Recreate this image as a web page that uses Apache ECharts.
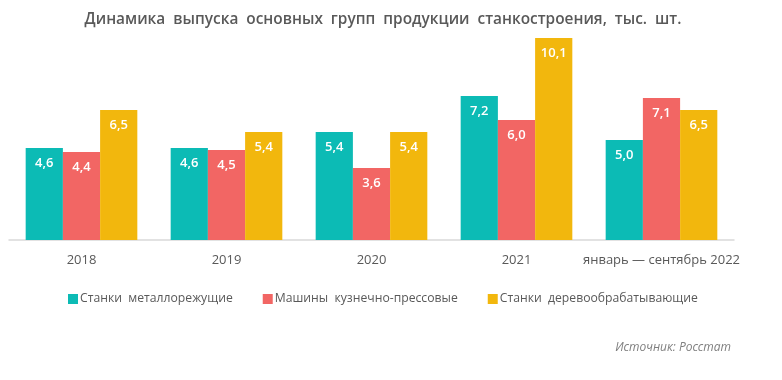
<!DOCTYPE html>
<html><head><meta charset="utf-8">
<script src="https://cdn.jsdelivr.net/npm/echarts@6/dist/echarts.min.js"></script>
<style>html,body{margin:0;padding:0;background:#fff}#c{width:782px;height:380px}</style>
</head><body><div id="c"></div>
<script>
const categories = ['2018', '2019', '2020', '2021', 'январь — сентябрь 2022'];
const seriesNames = ['Станки  металлорежущие', 'Машины  кузнечно-прессовые', 'Станки  деревообрабатывающие'];
const metal = [4.6, 4.6, 5.4, 7.2, 5.0];
const press = [4.4, 4.5, 3.6, 6.0, 7.1];
const wood = [6.5, 5.4, 5.4, 10.1, 6.5];
const colors = ['#0cbbb5', '#f26664', '#f2b70d'];

const chart = echarts.init(document.getElementById('c'));
const fnt = "'Open Sans', sans-serif";
function mk(name, data, color) {
  return {
    name, type: 'bar', data, barGap: '0%', barCategoryGap: '23%',
    itemStyle: { color },
    label: {
      show: true, position: 'insideTop', distance: 9, color: '#fff',
      fontFamily: fnt, fontSize: 13, fontWeight: 600,
      formatter: p => p.value.toFixed(1).replace('.', ',')
    }
  };
}
chart.setOption({
  animation: false,
  title: {
    text: 'Динамика  выпуска  основных  групп  продукции  станкостроения,  тыс.  шт.',
    left: 378, textAlign: 'center', top: 7,
    textStyle: { fontFamily: fnt, fontSize: 15.4, fontWeight: 600, color: '#595959' }
  },
  legend: {
    left: 63, top: 288, itemWidth: 10, itemHeight: 10, itemGap: 30, icon: 'rect',
    textStyle: { fontFamily: fnt, fontSize: 12.2, color: '#595959', padding: [0, 0, 0, -3] },
    data: seriesNames
  },
  graphic: [{
    type: 'text', right: 51, top: 342,
    style: { text: 'Источник: Росстат', fontFamily: fnt, fontSize: 12, fontStyle: 'italic', fill: '#7f7f7f' }
  }],
  grid: { left: 9, right: 48, top: 38, bottom: 140 },
  xAxis: {
    type: 'category', data: categories,
    axisLine: { lineStyle: { color: '#d9d9d9', width: 1.5 } },
    axisTick: { show: false },
    axisLabel: { interval: 0, fontFamily: fnt, fontSize: 13, color: '#595959', margin: 14 }
  },
  yAxis: { type: 'value', min: 0, max: 10.1, show: false, splitLine: { show: false } },
  series: [mk(seriesNames[0], metal, colors[0]), mk(seriesNames[1], press, colors[1]), mk(seriesNames[2], wood, colors[2])]
});
</script></body></html>
